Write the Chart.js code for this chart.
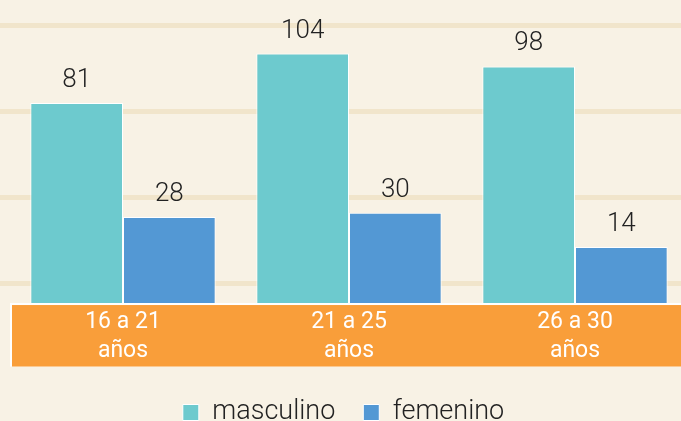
<!DOCTYPE html>
<html>
<head>
<meta charset="utf-8">
<script src="https://cdn.jsdelivr.net/npm/chart.js@4.4.1/dist/chart.umd.min.js"></script>
<style>
  html,body{margin:0;padding:0;background:#F8F2E5;}
  #wrap{width:681px;height:421px;}
</style>
</head>
<body>
<div id="wrap"><canvas id="chart" width="681" height="421"></canvas></div>
<script>
// data
const categories = [["16 a 21", "años"], ["21 a 25", "años"], ["26 a 30", "años"]];
const seriesNames = ["masculino", "femenino"];
const masculino = [81, 104, 98];
const femenino = [28, 30, 14];

const TEAL = "#6DCACE";
const BLUE = "#5398D4";
const ORANGE = "#F99E3A";
const GRID = "#F1E5CB";
const FONT = "Roboto, 'Noto Sans', sans-serif";

// bars rest a little under zero (the source stretched them)
const barBase = -12;

// the source's columns run a bit past the right edge
const stretchX = {
  id: "stretchX",
  afterLayout(chart) {
    const x = chart.scales.x;
    x.right += 7;
    x.width = x.right - x.left;
    x.configure();
  }
};

// orange band with the age labels, under the bars
const bandPlugin = {
  id: "band",
  afterDatasetsDraw(chart) {
    const ctx = chart.ctx;
    const xs = chart.scales.x, ys = chart.scales.y, yg = chart.scales.yg;
    const top = ys.getPixelForValue(barBase) + 2;
    const bottom = yg.getPixelForValue(0) - 2.5;
    const left = chart.chartArea.left + 2;
    const right = chart.width;
    ctx.save();
    ctx.fillStyle = "#ffffff";
    ctx.fillRect(left - 2, top - 2, right - left + 2, bottom - top + 2);
    ctx.fillStyle = ORANGE;
    ctx.fillRect(left, top, right - left, bottom - top);
    ctx.fillStyle = "#ffffff";
    ctx.font = "400 23px " + FONT;
    ctx.textAlign = "center";
    ctx.textBaseline = "middle";
    categories.forEach((lines, i) => {
      const x = xs.getPixelForValue(i);
      lines.forEach((t, j) => ctx.fillText(t, x, top + 17 + j * 29));
    });
    ctx.restore();
  }
};

// numbers over each bar
const valuePlugin = {
  id: "values",
  afterDatasetsDraw(chart) {
    const ctx = chart.ctx;
    ctx.save();
    ctx.fillStyle = "#222222";
    ctx.font = "300 26px " + FONT;
    ctx.textAlign = "center";
    ctx.textBaseline = "alphabetic";
    chart.data.datasets.forEach((ds, di) => {
      chart.getDatasetMeta(di).data.forEach((bar, i) => {
        ctx.fillText(ds.data[i], bar.x, bar.y - 16);
      });
    });
    ctx.restore();
  }
};

new Chart(document.getElementById("chart"), {
  type: "bar",
  data: {
    labels: categories,
    datasets: [
      { label: seriesNames[0], data: masculino, backgroundColor: TEAL },
      { label: seriesNames[1], data: femenino, backgroundColor: BLUE }
    ]
  },
  options: {
    responsive: false,
    animation: false,
    layout: { padding: { left: 0, right: -6, top: 0, bottom: -15 } },
    datasets: {
      bar: {
        base: barBase,
        borderColor: "#ffffff",
        borderWidth: 1,
        categoryPercentage: 0.82,
        barPercentage: 1
      }
    },
    scales: {
      x: { display: false },
      y: { display: false, min: -43.6, max: 128.9 },
      yg: {
        position: "left",
        min: -0.023,
        max: 4.291,
        border: { display: false },
        ticks: { display: false, stepSize: 1 },
        grid: {
          lineWidth: 5,
          tickLength: 10,
          color: (c) => Number.isInteger(c.tick.value) ? GRID : "rgba(0,0,0,0)"
        }
      }
    },
    plugins: {
      tooltip: { enabled: false },
      legend: {
        position: "bottom",
        labels: {
          color: "#222222",
          font: { family: FONT, size: 27, weight: "300" },
          boxWidth: 16,
          boxHeight: 16,
          padding: 28
        }
      }
    }
  },
  plugins: [stretchX, bandPlugin, valuePlugin]
});
</script>
</body>
</html>
